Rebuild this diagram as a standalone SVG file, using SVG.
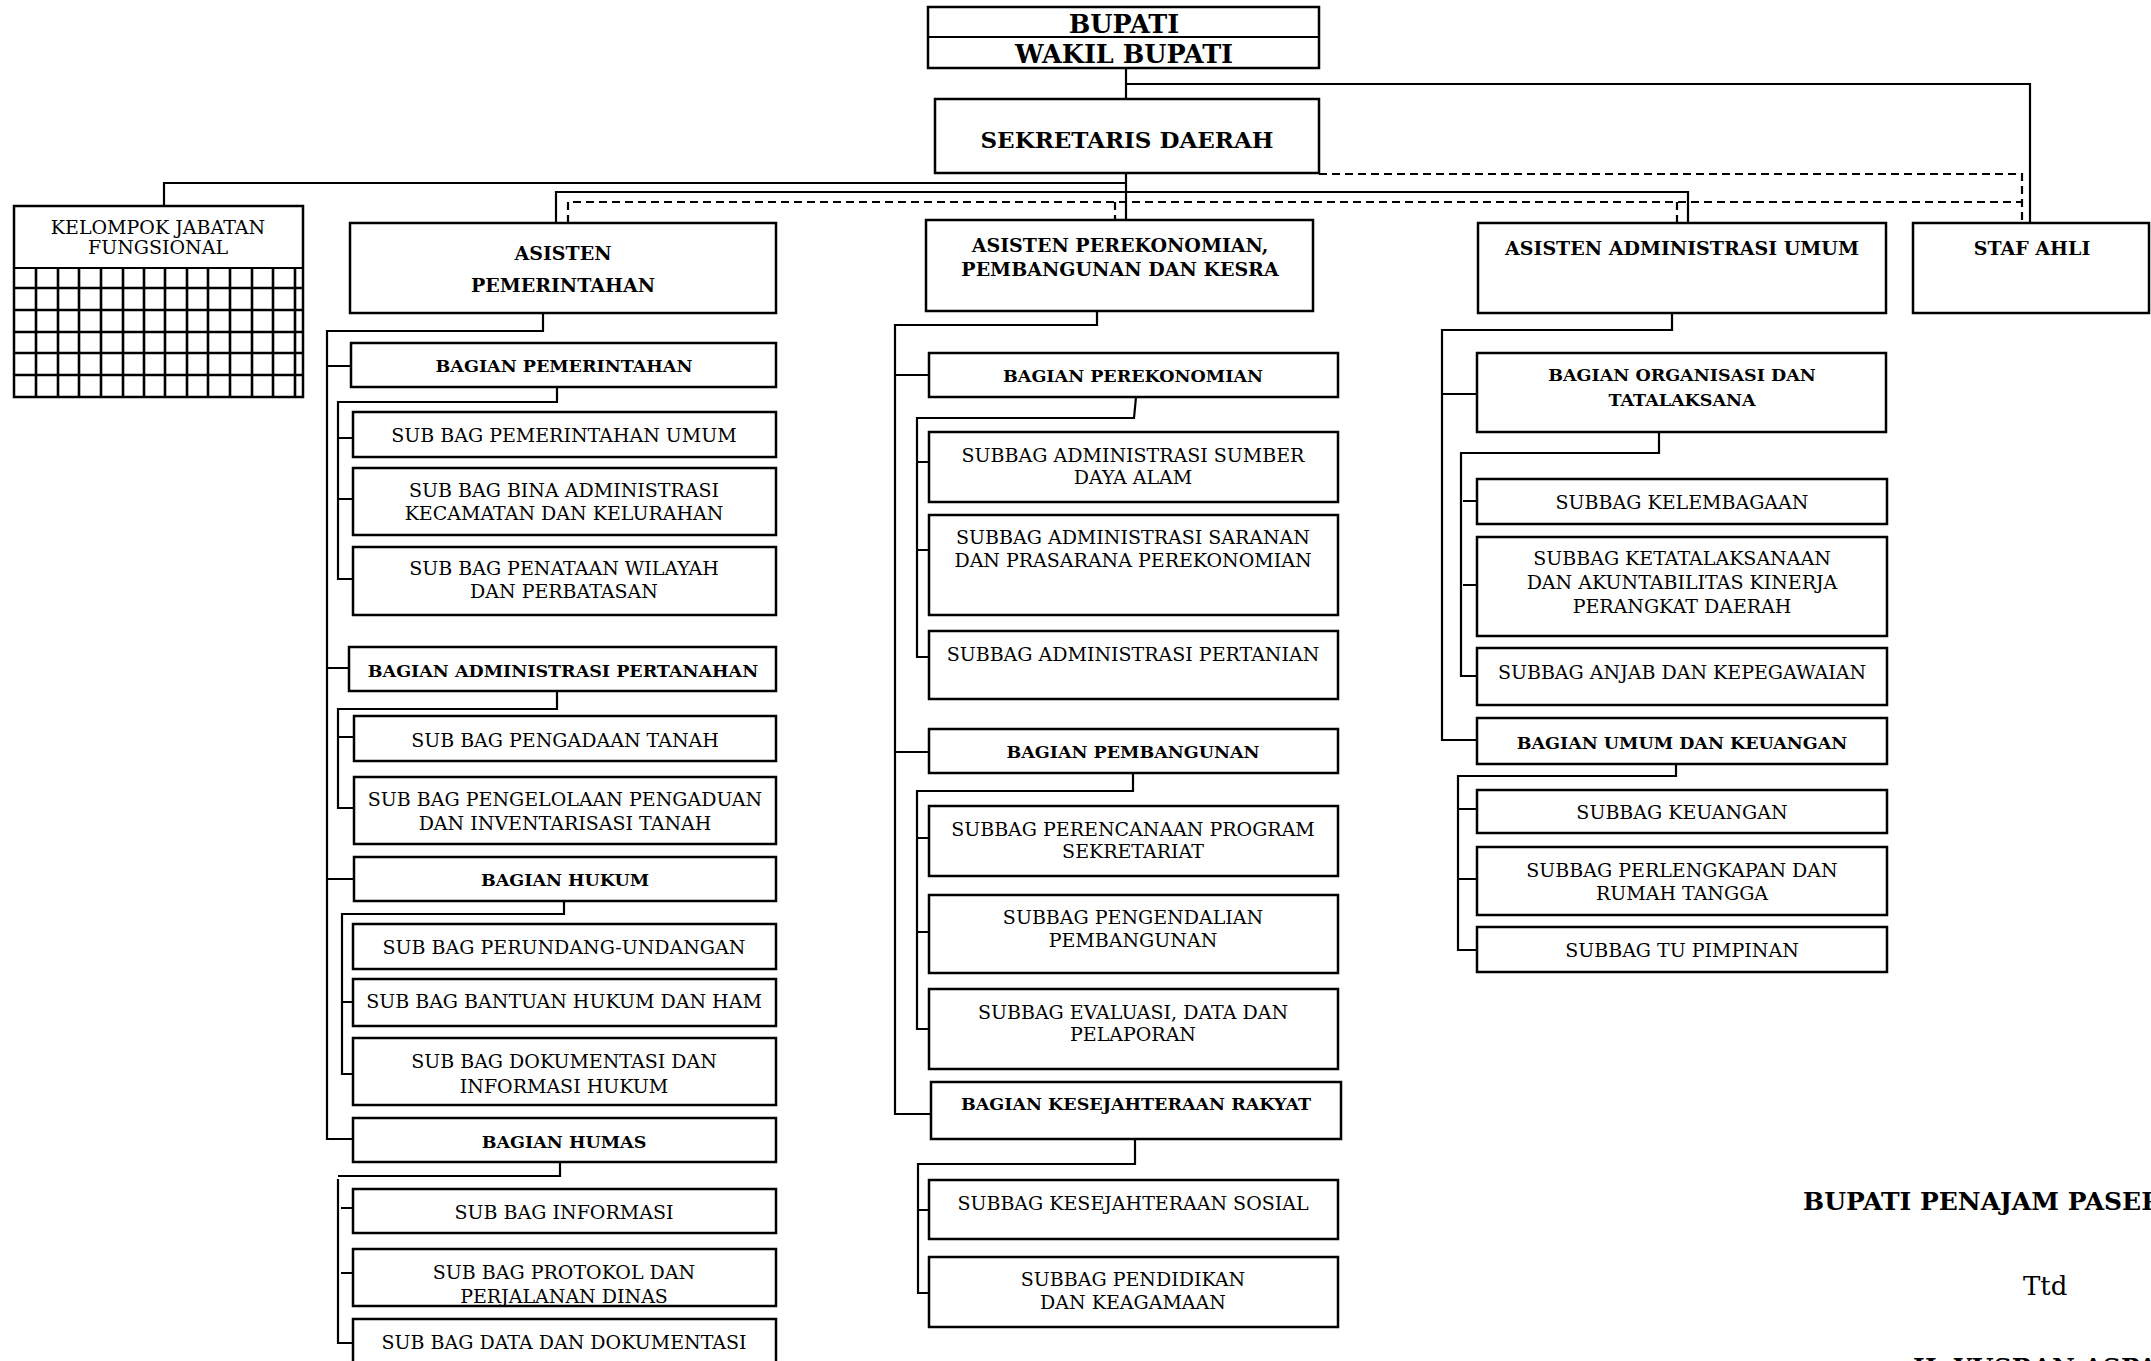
<svg xmlns="http://www.w3.org/2000/svg" width="2151" height="1361" viewBox="0 0 2151 1361">
<style>
.box{fill:#fff;stroke:#000;stroke-width:2.5}
.ln{fill:none;stroke:#000;stroke-width:2.2}
.ds{fill:none;stroke:#000;stroke-width:2.2;stroke-dasharray:8 5}
.gr{fill:none;stroke:#000;stroke-width:2.6}
text{font-family:"DejaVu Serif","Liberation Serif",serif;font-size:19px;text-anchor:middle;fill:#000}
.b{font-weight:bold;font-size:17.5px}
.a{font-weight:bold;font-size:19px}
.s{text-anchor:start}
</style>
<rect width="2151" height="1361" fill="#fff"/>
<g id="connectors">
<path class="ln" d="M1126,68 V99"/>
<path class="ln" d="M1126,84 H2030 V223"/>
<path class="ln" d="M1126,173 V220"/>
<path class="ln" d="M1126,183 H164 V206"/>
<path class="ln" d="M556,223 V192 H1688 V223"/>
<path class="ds" d="M1319,174 H2022 V223"/>
<path class="ds" d="M568,223 V202 H2022"/>
<path class="ds" d="M1115,202 V220"/>
<path class="ds" d="M1677,202 V223"/>
<path class="ln" d="M543,313 V331 H327 V1139 H353"/>
<path class="ln" d="M327,366 H351 M327,668 H349 M327,879 H354"/>
<path class="ln" d="M557,387 V402 H338 V579 H353 M338,438 H353 M338,499 H353"/>
<path class="ln" d="M557,691 V709 H338 V808 H354 M338,737 H354"/>
<path class="ln" d="M564,901 V914 H342 V1074 H353 M342,1002 H353"/>
<path class="ln" d="M560,1162 V1176 H338 M338,1179 V1343 H353 M341,1208 H353 M341,1273 H353"/>
<path class="ln" d="M1097,311 V325 H895 V1114 H931 M895,375 H929 M895,752 H929"/>
<path class="ln" d="M1136,397 L1134,418 H917 V657 H929 M917,462 H929 M917,550 H929"/>
<path class="ln" d="M1133,773 V791 H917 V1029 H929 M917,838 H929 M917,932 H929"/>
<path class="ln" d="M1135,1139 V1164 H918 V1293 H929 M918,1210 H929"/>
<path class="ln" d="M1672,313 V330 H1442 V740 H1477 M1442,394 H1477"/>
<path class="ln" d="M1659,432 V453 H1461 V676 H1477 M1463,501 H1477 M1463,585 H1477"/>
<path class="ln" d="M1676,764 V776 H1458 V950 H1477 M1458,809 H1477 M1458,879 H1477"/>
</g>
<g id="bupati">
<rect class="box" x="928" y="7" width="391" height="61"/>
<line class="ln" x1="928" y1="37" x2="1319" y2="37"/>
<text x="1124" y="33" style="font-weight:bold;font-size:25.5px">BUPATI</text>
<text x="1124" y="63" style="font-weight:bold;font-size:25.5px">WAKIL BUPATI</text>
</g>
<g id="sekda">
<rect class="box" x="935" y="99" width="384" height="74"/>
<text x="1127" y="148" style="font-weight:bold;font-size:23px">SEKRETARIS DAERAH</text>
</g>
<g id="kelompok">
<rect class="box" x="14" y="206" width="289" height="191"/>
<line class="ln" x1="14" y1="268" x2="303" y2="268"/>
<path class="gr" d="M36,268V397 M58,268V397 M79,268V397 M101,268V397 M123,268V397 M144,268V397 M165,268V397 M187,268V397 M208,268V397 M230,268V397 M252,268V397 M273,268V397 M295,268V397 M14,288H303 M14,310H303 M14,332H303 M14,353H303 M14,375H303"/>
<text x="158" y="234">KELOMPOK JABATAN</text>
<text x="158" y="254">FUNGSIONAL</text>
</g>
<g id="asisten-pemerintahan">
<rect class="box" x="350" y="223" width="426" height="90"/>
<text class="a" x="563" y="260">ASISTEN</text>
<text class="a" x="563" y="292">PEMERINTAHAN</text>
</g>
<g id="asisten-perekonomian">
<rect class="box" x="926" y="220" width="387" height="91"/>
<text class="a" x="1120" y="252">ASISTEN PEREKONOMIAN,</text>
<text class="a" x="1120" y="276">PEMBANGUNAN DAN KESRA</text>
</g>
<g id="asisten-administrasi">
<rect class="box" x="1478" y="223" width="408" height="90"/>
<text class="a" x="1682" y="255">ASISTEN ADMINISTRASI UMUM</text>
</g>
<g id="staf-ahli">
<rect class="box" x="1913" y="223" width="236" height="90"/>
<text class="a" x="2032" y="255">STAF AHLI</text>
</g>
<g id="bagian-pemerintahan"><rect class="box" x="351" y="343" width="425" height="44"/><text class="b" x="564" y="372">BAGIAN PEMERINTAHAN</text></g>
<g id="sb-pemerintahan-umum"><rect class="box" x="353" y="412" width="423" height="45"/><text x="564" y="442">SUB BAG PEMERINTAHAN UMUM</text></g>
<g id="sb-bina"><rect class="box" x="353" y="468" width="423" height="67"/><text x="564" y="497">SUB BAG BINA ADMINISTRASI</text><text x="564" y="520">KECAMATAN DAN KELURAHAN</text></g>
<g id="sb-penataan"><rect class="box" x="353" y="547" width="423" height="68"/><text x="564" y="575">SUB BAG PENATAAN WILAYAH</text><text x="564" y="598">DAN PERBATASAN</text></g>
<g id="bagian-pertanahan"><rect class="box" x="349" y="647" width="427" height="44"/><text class="b" x="563" y="677">BAGIAN ADMINISTRASI PERTANAHAN</text></g>
<g id="sb-pengadaan"><rect class="box" x="354" y="716" width="422" height="45"/><text x="565" y="747">SUB BAG PENGADAAN TANAH</text></g>
<g id="sb-pengelolaan"><rect class="box" x="354" y="777" width="422" height="67"/><text x="565" y="806">SUB BAG PENGELOLAAN PENGADUAN</text><text x="565" y="830">DAN INVENTARISASI TANAH</text></g>
<g id="bagian-hukum"><rect class="box" x="354" y="857" width="422" height="44"/><text class="b" x="565" y="886">BAGIAN HUKUM</text></g>
<g id="sb-perundang"><rect class="box" x="353" y="924" width="423" height="45"/><text x="564" y="954">SUB BAG PERUNDANG-UNDANGAN</text></g>
<g id="sb-bantuan"><rect class="box" x="353" y="979" width="423" height="47"/><text x="564" y="1008">SUB BAG BANTUAN HUKUM DAN HAM</text></g>
<g id="sb-dokumentasi"><rect class="box" x="353" y="1038" width="423" height="67"/><text x="564" y="1068">SUB BAG DOKUMENTASI DAN</text><text x="564" y="1093">INFORMASI HUKUM</text></g>
<g id="bagian-humas"><rect class="box" x="353" y="1118" width="423" height="44"/><text class="b" x="564" y="1148">BAGIAN HUMAS</text></g>
<g id="sb-informasi"><rect class="box" x="353" y="1189" width="423" height="44"/><text x="564" y="1219">SUB BAG INFORMASI</text></g>
<g id="sb-protokol"><rect class="box" x="353" y="1249" width="423" height="57"/><text x="564" y="1279">SUB BAG PROTOKOL DAN</text><text x="564" y="1303">PERJALANAN DINAS</text></g>
<g id="sb-data"><rect class="box" x="353" y="1319" width="423" height="60"/><text x="564" y="1349">SUB BAG DATA DAN DOKUMENTASI</text></g>
<g id="bagian-perekonomian"><rect class="box" x="929" y="353" width="409" height="44"/><text class="b" x="1133" y="382">BAGIAN PEREKONOMIAN</text></g>
<g id="sb-sda"><rect class="box" x="929" y="432" width="409" height="70"/><text x="1133" y="462">SUBBAG ADMINISTRASI SUMBER</text><text x="1133" y="484">DAYA ALAM</text></g>
<g id="sb-saranan"><rect class="box" x="929" y="515" width="409" height="100"/><text x="1133" y="544">SUBBAG ADMINISTRASI SARANAN</text><text x="1133" y="567">DAN PRASARANA PEREKONOMIAN</text></g>
<g id="sb-pertanian"><rect class="box" x="929" y="631" width="409" height="68"/><text x="1133" y="661">SUBBAG ADMINISTRASI PERTANIAN</text></g>
<g id="bagian-pembangunan"><rect class="box" x="929" y="729" width="409" height="44"/><text class="b" x="1133" y="758">BAGIAN PEMBANGUNAN</text></g>
<g id="sb-perencanaan"><rect class="box" x="929" y="806" width="409" height="70"/><text x="1133" y="836">SUBBAG PERENCANAAN PROGRAM</text><text x="1133" y="858">SEKRETARIAT</text></g>
<g id="sb-pengendalian"><rect class="box" x="929" y="895" width="409" height="78"/><text x="1133" y="924">SUBBAG PENGENDALIAN</text><text x="1133" y="947">PEMBANGUNAN</text></g>
<g id="sb-evaluasi"><rect class="box" x="929" y="989" width="409" height="80"/><text x="1133" y="1019">SUBBAG EVALUASI, DATA DAN</text><text x="1133" y="1041">PELAPORAN</text></g>
<g id="bagian-kesra"><rect class="box" x="931" y="1082" width="410" height="57"/><text class="b" x="1136" y="1110">BAGIAN KESEJAHTERAAN RAKYAT</text></g>
<g id="sb-sosial"><rect class="box" x="929" y="1180" width="409" height="59"/><text x="1133" y="1210">SUBBAG KESEJAHTERAAN SOSIAL</text></g>
<g id="sb-pendidikan"><rect class="box" x="929" y="1257" width="409" height="70"/><text x="1133" y="1286">SUBBAG PENDIDIKAN</text><text x="1133" y="1309">DAN KEAGAMAAN</text></g>
<g id="bagian-organisasi"><rect class="box" x="1477" y="353" width="409" height="79"/><text class="b" x="1682" y="381">BAGIAN ORGANISASI DAN</text><text class="b" x="1682" y="406">TATALAKSANA</text></g>
<g id="sb-kelembagaan"><rect class="box" x="1477" y="479" width="410" height="45"/><text x="1682" y="509">SUBBAG KELEMBAGAAN</text></g>
<g id="sb-ketatalaksanaan"><rect class="box" x="1477" y="537" width="410" height="99"/><text x="1682" y="565">SUBBAG KETATALAKSANAAN</text><text x="1682" y="589">DAN AKUNTABILITAS KINERJA</text><text x="1682" y="613">PERANGKAT DAERAH</text></g>
<g id="sb-anjab"><rect class="box" x="1477" y="648" width="410" height="57"/><text x="1682" y="679">SUBBAG ANJAB DAN KEPEGAWAIAN</text></g>
<g id="bagian-umum"><rect class="box" x="1477" y="718" width="410" height="46"/><text class="b" x="1682" y="749">BAGIAN UMUM DAN KEUANGAN</text></g>
<g id="sb-keuangan"><rect class="box" x="1477" y="790" width="410" height="43"/><text x="1682" y="819">SUBBAG KEUANGAN</text></g>
<g id="sb-perlengkapan"><rect class="box" x="1477" y="847" width="410" height="68"/><text x="1682" y="877">SUBBAG PERLENGKAPAN DAN</text><text x="1682" y="900">RUMAH TANGGA</text></g>
<g id="sb-tu"><rect class="box" x="1477" y="927" width="410" height="45"/><text x="1682" y="957">SUBBAG TU PIMPINAN</text></g>
<g id="signature">
<text class="s" x="1803" y="1210" style="font-weight:bold;font-size:25px">BUPATI PENAJAM PASER UTARA</text>
<text class="s" x="2023" y="1295" style="font-size:26px">Ttd</text>
<text class="s" x="1913" y="1376" style="font-weight:bold;font-size:25px">H. YUSRAN ASPAR</text>
</g>
</svg>
